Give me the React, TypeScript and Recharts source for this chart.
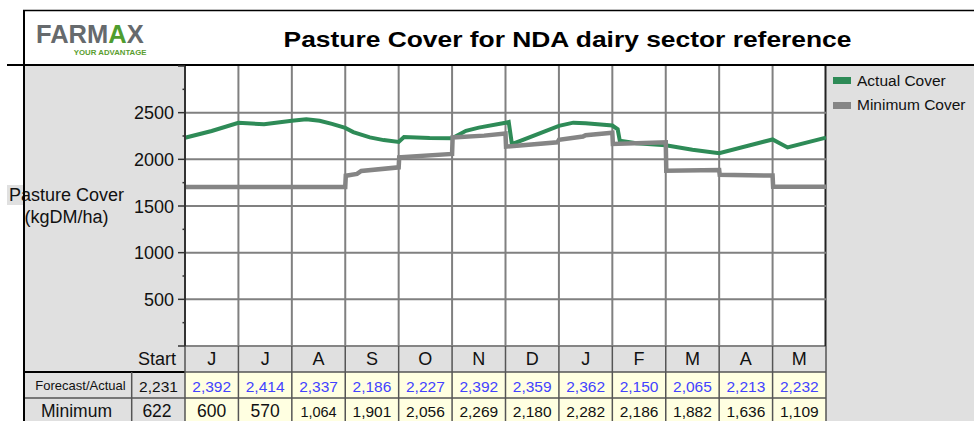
import React from "react";
import { LineChart, Line, XAxis, YAxis, CartesianGrid, Legend } from "recharts";

const W = 974;
const H = 421;
const FONT = "'Liberation Sans', Arial, sans-serif";
const PANEL = "#e0e0e0";
const CELL = "#ffffe1";
const GREEN = "#2e8b57";
const GREY = "#858585";
const BLUE = "#4343ff";

// table under the chart
const months = ["J", "J", "A", "S", "O", "N", "D", "J", "F", "M", "A", "M"];
const startForecast = 2231;
const forecastActual = [2392, 2414, 2337, 2186, 2227, 2392, 2359, 2362, 2150, 2065, 2213, 2232];
const startMinimum = 622;
const minimumRow = [600, 570, 1064, 1901, 2056, 2269, 2180, 2282, 2186, 1882, 1636, 1109];

// chart series, m = months since the start of June
const actualCover = [
  { m: 0, actual: 2231 }, { m: 0.5, actual: 2304 }, { m: 1, actual: 2392 },
  { m: 1.48, actual: 2376 }, { m: 2, actual: 2414 }, { m: 2.27, actual: 2430 },
  { m: 2.52, actual: 2413 }, { m: 2.75, actual: 2380 }, { m: 3, actual: 2337 },
  { m: 3.15, actual: 2292 }, { m: 3.46, actual: 2235 }, { m: 3.72, actual: 2206 },
  { m: 4, actual: 2186 }, { m: 4.1, actual: 2240 }, { m: 4.58, actual: 2228 },
  { m: 5, actual: 2227 }, { m: 5.26, actual: 2306 }, { m: 5.5, actual: 2340 },
  { m: 6, actual: 2392 }, { m: 6.06, actual: 2400 }, { m: 6.12, actual: 2163 },
  { m: 7, actual: 2359 }, { m: 7.27, actual: 2393 }, { m: 7.5, actual: 2387 },
  { m: 8, actual: 2362 }, { m: 8.1, actual: 2322 }, { m: 8.14, actual: 2198 },
  { m: 8.45, actual: 2172 }, { m: 9, actual: 2150 }, { m: 9.5, actual: 2102 },
  { m: 10, actual: 2065 }, { m: 11, actual: 2213 }, { m: 11.28, actual: 2127 },
  { m: 12, actual: 2232 },
];

const minimumCover = [
  { m: 0, minimum: 1704 }, { m: 3, minimum: 1704 }, { m: 3.01, minimum: 1824 },
  { m: 3.22, minimum: 1844 }, { m: 3.3, minimum: 1876 }, { m: 4, minimum: 1914 },
  { m: 4.01, minimum: 2022 }, { m: 5, minimum: 2058 }, { m: 5.01, minimum: 2234 },
  { m: 5.6, minimum: 2254 }, { m: 6, minimum: 2276 }, { m: 6.01, minimum: 2136 },
  { m: 6.97, minimum: 2182 }, { m: 7, minimum: 2209 }, { m: 7.45, minimum: 2244 },
  { m: 7.5, minimum: 2259 }, { m: 8, minimum: 2286 }, { m: 8.01, minimum: 2165 },
  { m: 9, minimum: 2182 }, { m: 9.01, minimum: 1879 }, { m: 10, minimum: 1886 },
  { m: 10.01, minimum: 1834 }, { m: 11, minimum: 1826 }, { m: 11.01, minimum: 1707 },
  { m: 12, minimum: 1707 },
];

const yTicks = [0, 250, 500, 750, 1000, 1250, 1500, 1750, 2000, 2250, 2500, 2750, 3000];
const gridY = [500, 1000, 1500, 2000, 2500];
const monthEdges = [0, 1, 2, 3, 4, 5, 6, 7, 8, 9, 10, 11, 12];

// plot box in page pixels
const PL = 185;
const PR = 826;
const PT = 66;
const PB = 346;
const COL = (PR - PL) / 12;
const colMid = (i: number) => PL + COL * (i + 0.5);
const fmt = (v: number) => v.toLocaleString("en-US");

function YTick(props: any) {
  const { x, y, payload } = props;
  const v = payload.value as number;
  const major = v % 500 === 0;
  return (
    <g>
      <line x1={x - (major ? 7 : 2.5)} x2={x} y1={y} y2={y} stroke="#333" strokeWidth={1.5} />
      {major && v > 0 && v < 3000 && (
        <text x={x - 11} y={y + 6.5} textAnchor="end" fontSize={18} fill="#111" fontFamily={FONT}>
          {v}
        </text>
      )}
    </g>
  );
}

function LegendBox(props: any) {
  const { payload } = props;
  return (
    <div style={{ fontFamily: FONT }}>
      {(payload || []).map((p: any) => (
        <div key={p.value} style={{ display: "flex", alignItems: "center", height: 24.5 }}>
          <span style={{ width: 18, height: 7, background: p.color, marginLeft: 7, marginRight: 6 }} />
          <span style={{ fontSize: 15.5, color: "#111", lineHeight: "24.5px" }}>{p.value}</span>
        </div>
      ))}
    </div>
  );
}

function Backdrop() {
  const line = "#555";
  return (
    <svg width={W} height={H} style={{ position: "absolute", left: 0, top: 0 }} fontFamily={FONT}>
      {/* panels */}
      <rect x={25} y={66} width={PL - 25} height={H - 66} fill={PANEL} />
      <rect x={PR} y={66} width={W - PR} height={H - 66} fill={PANEL} />
      <rect x={PL} y={PB} width={PR - PL} height={26} fill={PANEL} />
      <rect x={PL} y={372} width={PR - PL} height={H - 372} fill={CELL} />

      {/* logo + title */}
      <text x={36} y={43.3} fontSize={25.5} fontWeight="bold" fill="#666a6d">
        FARM<tspan fill="#4f9d2f">A</tspan>X
      </text>
      <text x={146.5} y={54.5} fontSize={7.8} fontWeight="bold" fill="#5a9e30" textAnchor="end">
        YOUR ADVANTAGE
      </text>
      <text transform="translate(567.5,47) scale(1.2,1)" textAnchor="middle" fontSize={22} fontWeight="bold" fill="#000">
        Pasture Cover for NDA dairy sector reference
      </text>

      {/* y axis title */}
      <rect x={7} y={185} width={120} height={20} fill={PANEL} />
      <text x={66.5} y={201} textAnchor="middle" fontSize={18} fill="#111">Pasture Cover</text>
      <text x={66.5} y={222.5} textAnchor="middle" fontSize={18} fill="#111">(kgDM/ha)</text>

      {/* table text */}
      <text x={157} y={365} textAnchor="middle" fontSize={18} fill="#111">Start</text>
      {months.map((mo, i) => (
        <text key={"h" + i} x={colMid(i)} y={365} textAnchor="middle" fontSize={18} fill="#111">{mo}</text>
      ))}
      <text x={80.5} y={390} textAnchor="middle" fontSize={13} fill="#111">Forecast/Actual</text>
      <text x={158.5} y={391.5} textAnchor="middle" fontSize={15.5} fill="#111">{fmt(startForecast)}</text>
      {forecastActual.map((v, i) => (
        <text key={"f" + i} x={colMid(i)} y={391.5} textAnchor="middle" fontSize={15.5} fill={BLUE}>{fmt(v)}</text>
      ))}
      <text x={76.5} y={416.5} textAnchor="middle" fontSize={17.5} fill="#111">Minimum</text>
      <text x={157} y={416.5} textAnchor="middle" fontSize={17.5} fill="#111">{fmt(startMinimum)}</text>
      {minimumRow.map((v, i) => (
        <text key={"n" + i} x={colMid(i)} y={416.5} textAnchor="middle"
          fontSize={v < 1000 ? 17.5 : v < 1100 ? 14.5 : 15.5} fill="#111">{fmt(v)}</text>
      ))}

      {/* table rules */}
      <line x1={PL} x2={PR} y1={PB} y2={PB} stroke={GREY} strokeWidth={2} />
      <line x1={PL} x2={PR} y1={372} y2={372} stroke={line} strokeWidth={1.5} />
      <line x1={24} x2={PL} y1={372} y2={372} stroke="#000" strokeWidth={2} />
      <line x1={24} x2={PR} y1={398} y2={398} stroke={line} strokeWidth={1.5} />
      <line x1={131.7} x2={131.7} y1={372} y2={H} stroke={line} strokeWidth={1.5} />
      {monthEdges.map((e) => (
        <line key={"v" + e} x1={PL + COL * e} x2={PL + COL * e} y1={PB} y2={H} stroke={line} strokeWidth={1.5} />
      ))}
      <line x1={PR - 0.5} x2={PR - 0.5} y1={PT} y2={PB} stroke="#222" strokeWidth={2} />

      {/* frame */}
      <line x1={23} x2={W} y1={10.5} y2={10.5} stroke="#000" strokeWidth={1.5} />
      <line x1={24} x2={24} y1={10} y2={H} stroke="#000" strokeWidth={2} />
      <line x1={7} x2={W} y1={65} y2={65} stroke="#000" strokeWidth={2} />
    </svg>
  );
}

export default function App() {
  return (
    <div style={{ position: "absolute", left: 0, top: 0, width: W, height: H, overflow: "hidden", background: "#fff", fontFamily: FONT }}>
      <Backdrop />
      <div style={{ position: "absolute", left: 0, top: 0 }}>
        <LineChart width={W} height={H} margin={{ top: PT, right: W - PR, bottom: H - PB, left: PL - 60 }}>
          <CartesianGrid stroke="#808080" strokeWidth={2} horizontalValues={gridY} verticalValues={monthEdges.slice(1, 12)} />
          <XAxis type="number" dataKey="m" domain={[0, 12]} ticks={monthEdges} hide />
          <YAxis
            type="number"
            domain={[0, 3000]}
            ticks={yTicks}
            width={60}
            tickSize={0}
            tickMargin={0}
            tickLine={false}
            axisLine={{ stroke: "#333", strokeWidth: 2 }}
            tick={<YTick />}
            interval={0}
          />
          <Legend
            layout="horizontal"
            verticalAlign="middle"
            align="center"
            wrapperStyle={{ left: 826, top: 68.6, width: 148 }}
            content={<LegendBox />}
          />
          <Line data={actualCover} dataKey="actual" name="Actual Cover" type="linear" stroke={GREEN}
            strokeWidth={4} dot={false} isAnimationActive={false} />
          <Line data={minimumCover} dataKey="minimum" name="Minimum Cover" type="linear" stroke={GREY}
            strokeWidth={4.5} dot={false} isAnimationActive={false} />
        </LineChart>
      </div>
    </div>
  );
}
